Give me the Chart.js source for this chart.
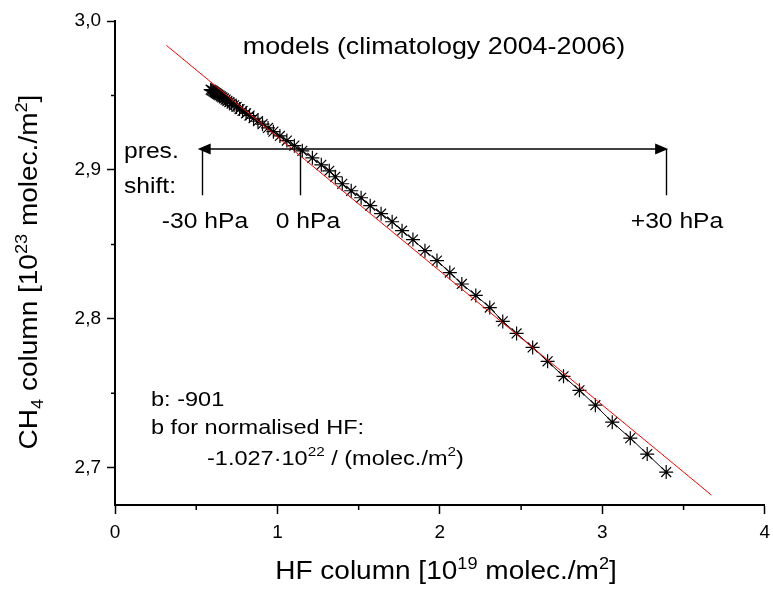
<!DOCTYPE html>
<html>
<head>
<meta charset="utf-8">
<script src="https://cdn.jsdelivr.net/npm/chart.js@4.4.0/dist/chart.umd.min.js"></script>
<style>
  body { margin: 0; background: #fff; }
  #wrap { width: 773px; height: 590px; }
</style>
</head>
<body>
<div id="wrap"><canvas id="grafico" width="773" height="590"></canvas></div>
<script>
// HF column [1e19 molec/m2] vs CH4 column [1e23 molec/m2], pressure shift -30..+30 hPa
const hfCol = [
  0.589, 0.595, 0.602, 0.608, 0.614, 0.621, 0.628, 0.635, 0.643, 0.652,
  0.661, 0.671, 0.681, 0.692, 0.704, 0.718, 0.733, 0.748, 0.767, 0.785,
  0.807, 0.828, 0.853, 0.880, 0.908, 0.942, 0.975, 1.015, 1.058, 1.104,
  1.153, 1.215, 1.270, 1.319, 1.356, 1.399, 1.454, 1.515, 1.571, 1.638,
  1.706, 1.767, 1.834, 1.908, 1.982, 2.061, 2.135, 2.221, 2.307, 2.387,
  2.472, 2.571, 2.663, 2.761, 2.859, 2.957, 3.061, 3.172, 3.276, 3.393
];
const ch4Col = [
  2.9539, 2.9534, 2.9530, 2.9525, 2.9520, 2.9516, 2.9511, 2.9506, 2.9500, 2.9494,
  2.9487, 2.9480, 2.9472, 2.9464, 2.9455, 2.9445, 2.9434, 2.9423, 2.9409, 2.9396,
  2.9380, 2.9365, 2.9347, 2.9327, 2.9307, 2.9282, 2.9257, 2.9228, 2.9197, 2.9163,
  2.9128, 2.9081, 2.9034, 2.8994, 2.8954, 2.8907, 2.8860, 2.8813, 2.8760, 2.8706,
  2.8652, 2.8592, 2.8532, 2.8458, 2.8391, 2.8311, 2.8234, 2.8157, 2.8076, 2.7983,
  2.7902, 2.7808, 2.7715, 2.7614, 2.7520, 2.7420, 2.7306, 2.7199, 2.7092, 2.6971
];
// linear fit, b = -901
const fitHf = [0.317, 3.671];
const fitCh4 = [2.9836, 2.6817];

const xTicks = [0, 1, 2, 3, 4];
const xMinor = [0.5, 1.5, 2.5, 3.5];
const yTicks = [2.7, 2.8, 2.9, 3.0];
const yMinor = [2.75, 2.85, 2.95];

// pressure shift arrow: -30 hPa, 0 hPa, +30 hPa
const shiftHf = [0.534, 1.141, 3.393];
const shiftLabels = ['-30 hPa', '0 hPa', '+30 hPa'];
const arrowHf = [0.509, 3.405];
const arrowCh4 = 2.914;
const shiftBottom = 2.883;

const FONT = '"Liberation Sans", Arial, sans-serif';
const STRETCH = 1.12;

function escreveTexto(ctx, partes, x, y, tam, alinhar) {
  ctx.save();
  const larguras = partes.map(p => {
    ctx.font = (p[1] ? tam * 0.65 : tam) + 'px ' + FONT;
    return ctx.measureText(p[0]).width;
  });
  const total = larguras.reduce((a, b) => a + b, 0);
  ctx.translate(x, y);
  if (alinhar === 'vertical') ctx.rotate(-Math.PI / 2);
  ctx.scale(STRETCH, 1);
  let cx = alinhar === 'left' ? 0 : -total / 2;
  ctx.fillStyle = '#000';
  ctx.textBaseline = 'alphabetic';
  ctx.textAlign = 'left';
  partes.forEach((p, i) => {
    ctx.font = (p[1] ? tam * 0.65 : tam) + 'px ' + FONT;
    let dy = 0;
    if (p[1] === 1) dy = -tam * 0.42;
    if (p[1] === 2) dy = tam * 0.22;
    ctx.fillText(p[0], cx, dy);
    cx += larguras[i];
  });
  ctx.restore();
}

const anotacoes = {
  id: 'anotacoes',
  afterDatasetsDraw(chart) {
    const ctx = chart.ctx;
    const sx = chart.scales.x, sy = chart.scales.y;
    ctx.save();
    ctx.strokeStyle = '#000';
    ctx.fillStyle = '#000';

    // minor ticks
    ctx.lineWidth = 1.5;
    ctx.beginPath();
    xMinor.forEach(v => {
      const px = sx.getPixelForValue(v);
      ctx.moveTo(px, sy.bottom);
      ctx.lineTo(px, sy.bottom + 5);
    });
    yMinor.forEach(v => {
      const py = sy.getPixelForValue(v);
      ctx.moveTo(sx.left, py);
      ctx.lineTo(sx.left - 4, py);
    });
    ctx.stroke();

    // arrow
    const ay = sy.getPixelForValue(arrowCh4);
    const a0 = sx.getPixelForValue(arrowHf[0]);
    const a1 = sx.getPixelForValue(arrowHf[1]);
    ctx.lineWidth = 1.6;
    ctx.beginPath();
    ctx.moveTo(a0 + 10, ay);
    ctx.lineTo(a1 - 10, ay);
    ctx.stroke();
    ctx.beginPath();
    ctx.moveTo(a0, ay);
    ctx.lineTo(a0 + 13, ay - 5.5);
    ctx.lineTo(a0 + 13, ay + 5.5);
    ctx.closePath();
    ctx.moveTo(a1, ay);
    ctx.lineTo(a1 - 13, ay - 5.5);
    ctx.lineTo(a1 - 13, ay + 5.5);
    ctx.closePath();
    ctx.fill();

    ctx.lineWidth = 1.4;
    ctx.beginPath();
    const yb = sy.getPixelForValue(shiftBottom);
    shiftHf.forEach(v => {
      const px = Math.round(sx.getPixelForValue(v)) + 0.5;
      ctx.moveTo(px, ay);
      ctx.lineTo(px, yb);
    });
    ctx.stroke();
    ctx.restore();

    // texts
    escreveTexto(ctx, [['models (climatology 2004-2006)']], 434, 54, 24, 'center');
    escreveTexto(ctx, [['pres.']], 124, 158, 22, 'left');
    escreveTexto(ctx, [['shift:']], 124, 192.5, 22, 'left');
    escreveTexto(ctx, [[shiftLabels[0]]], 205, 227.5, 22, 'center');
    escreveTexto(ctx, [[shiftLabels[1]]], 308, 227.5, 22, 'center');
    escreveTexto(ctx, [[shiftLabels[2]]], 677, 227.5, 22, 'center');
    escreveTexto(ctx, [['b: -901']], 151, 405.5, 21, 'left');
    escreveTexto(ctx, [['b for normalised HF:']], 151, 434, 21, 'left');
    escreveTexto(ctx, [['-1.027\u00b710'], ['22', 1], [' / (molec./m'], ['2', 1], [')']], 207, 465, 21, 'left');

    // axis titles
    escreveTexto(ctx, [['HF column [10'], ['19', 1], [' molec./m'], ['2', 1], [']']], 446, 579, 25, 'center');
    escreveTexto(ctx, [['CH'], ['4', 2], [' column [10'], ['23', 1], [' molec./m'], ['2', 1], [']']], 37, 272, 25, 'vertical');
  }
};

const $grafico = document.getElementById('grafico');

const semPadding = (s) => { s.paddingLeft = 0; s.paddingRight = 0; s.paddingTop = 0; s.paddingBottom = 0; };

const graficoHF = new Chart($grafico, {
  type: 'scatter',
  data: {
    datasets: [{
      label: 'fit',
      data: fitHf.map((x, i) => ({ x: x, y: fitCh4[i] })),
      showLine: true,
      borderColor: '#ff0000',
      borderWidth: 1,
      pointRadius: 0
    }, {
      label: 'models',
      data: hfCol.map((x, i) => ({ x: x, y: ch4Col[i] })),
      showLine: true,
      borderColor: '#000',
      borderWidth: 1,
      pointStyle: 'star',
      pointRadius: 7,
      pointBorderWidth: 1.2,
      pointBorderColor: '#000',
      pointBackgroundColor: '#000'
    }]
  },
  options: {
    responsive: false,
    animation: false,
    layout: { padding: { top: 21, right: 6, left: 0, bottom: 0 } },
    plugins: { legend: { display: false }, tooltip: { enabled: false } },
    scales: {
      x: {
        type: 'linear',
        min: 0,
        max: 4,
        afterBuildTicks: (s) => { s.ticks = xTicks.map(v => ({ value: v })); },
        afterFit: (s) => { s.height = 85; semPadding(s); },
        afterUpdate: semPadding,
        ticks: {
          color: '#000',
          padding: 7,
          maxRotation: 0,
          font: { family: FONT, size: 19 },
          callback: (v) => String(v)
        },
        grid: { drawOnChartArea: false, tickLength: 9, tickColor: '#000', tickWidth: 1.5 },
        border: { display: true, color: '#000', width: 2 }
      },
      y: {
        type: 'linear',
        min: 2.675,
        max: 3.0,
        afterBuildTicks: (s) => { s.ticks = yTicks.map(v => ({ value: v })); },
        afterFit: (s) => { s.width = 115; semPadding(s); },
        afterUpdate: semPadding,
        ticks: {
          color: '#000',
          padding: 6,
          font: { family: FONT, size: 19 },
          callback: (v) => v.toFixed(1).replace('.', ',')
        },
        grid: { drawOnChartArea: false, tickLength: 8, tickColor: '#000', tickWidth: 1.5 },
        border: { display: true, color: '#000', width: 2 }
      }
    }
  },
  plugins: [anotacoes]
});
</script>
</body>
</html>
